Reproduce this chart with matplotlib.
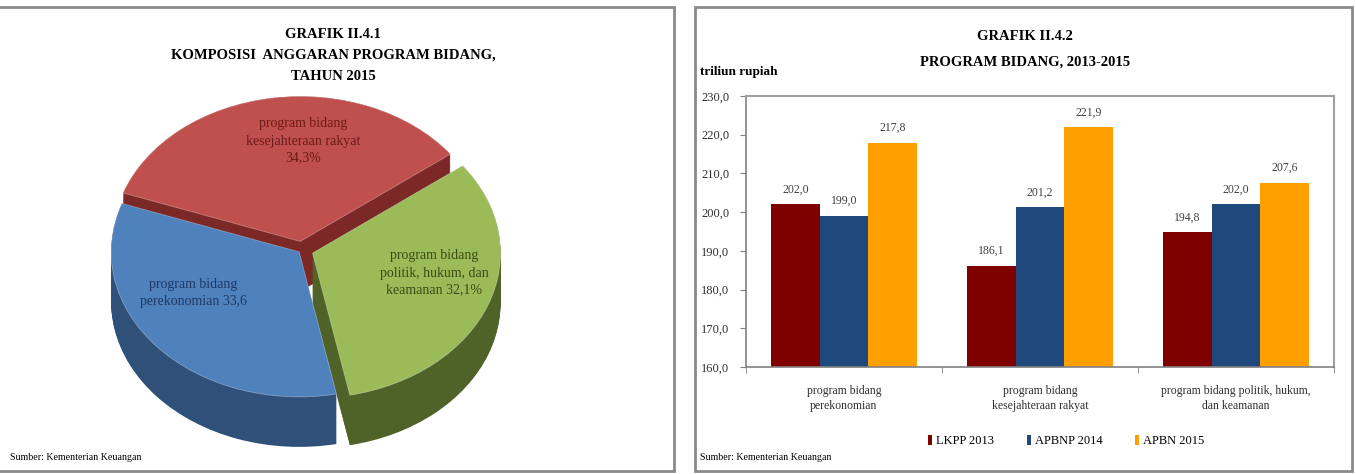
import matplotlib.pyplot as plt
import numpy as np
from matplotlib.patches import Rectangle, Patch

plt.rcParams['font.family'] = ['Liberation Serif', 'DejaVu Serif']

# --- data ---
pie_labels = ['program bidang\nkesejahteraan rakyat\n34,3%',
              'program bidang\nperekonomian 33,6',
              'program bidang\npolitik, hukum, dan\nkeamanan 32,1%']
pie_values = [34.3, 33.6, 32.1]
pie_top = ['#c0504d', '#4f81bd', '#9bbb59']
pie_side = ['#7b2826', '#2f5079', '#4f6228']
pie_text = ['#6b1a18', '#1f3864', '#3b4a14']
pie_explode = [0.06, 0.02, 0.06]

categories = ['program bidang\nperekonomian',
              'program bidang\nkesejahteraan rakyat',
              'program bidang politik, hukum,\ndan keamanan']
series = ['LKPP 2013', 'APBNP 2014', 'APBN 2015']
lkpp = [202.0, 186.1, 194.8]
apbnp = [199.0, 201.2, 202.0]
apbn = [217.8, 221.9, 207.6]
bar_colors = ['#800000', '#1f497d', '#ffa000']

W, H = 1356, 474
fig = plt.figure(figsize=(W / 100, H / 100), dpi=100)


def fx(px):
    return px / W


def fy(py):
    return 1 - py / H


# panel frames
for x0, x1 in [(-3, 674), (695, 1352)]:
    fig.patches.append(Rectangle((fx(x0), fy(471)), fx(x1 - x0), (471 - 7) / H,
                                 transform=fig.transFigure, fill=False,
                                 edgecolor='#8a8a8a', linewidth=2))

# ---------------- left: 3D-like pie ----------------
fig.text(fx(333), fy(34), 'GRAFIK II.4.1', ha='center', va='center',
         fontsize=10.5, fontweight='bold')
fig.text(fx(333), fy(55), 'KOMPOSISI  ANGGARAN PROGRAM BIDANG,', ha='center',
         va='center', fontsize=10.5, fontweight='bold')
fig.text(fx(333), fy(77), 'TAHUN 2015', ha='center', va='center',
         fontsize=10.5, fontweight='bold')
fig.text(fx(10), fy(457), 'Sumber: Kementerian Keuangan', ha='left',
         va='center', fontsize=7.2)

# axes pixel box
ax_l, ax_r, ax_t, ax_b = 95, 520, 85, 462
cx, cy = 302, 250
rx, ry = 188, 145
depth = 50 / ry
pax = fig.add_axes([fx(ax_l), fy(ax_b), fx(ax_r - ax_l), (ax_b - ax_t) / H])
start = 37

# side layers (extrusion)
for z in np.linspace(-depth, 0, 45):
    pax.pie(pie_values, explode=pie_explode, colors=pie_side,
            startangle=start, center=(0, z), radius=1,
            wedgeprops=dict(linewidth=0))
# top faces
pax.pie(pie_values, explode=pie_explode, colors=pie_top,
        startangle=start, center=(0, 0), radius=1,
        wedgeprops=dict(linewidth=0.6, edgecolor='#ffffff55'))
pax.set_aspect('auto')
pax.set_xlim((ax_l - cx) / rx, (ax_r - cx) / rx)
pax.set_ylim(-(ax_b - cy) / ry, (cy - ax_t) / ry)
pax.axis('off')

label_pos = [(303, 141), (193, 293), (434, 273)]
for lab, (px, py), c in zip(pie_labels, label_pos, pie_text):
    fig.text(fx(px), fy(py), lab, ha='center', va='center', fontsize=10,
             color=c, linespacing=1.4)

# ---------------- right: grouped bars ----------------
fig.text(fx(1025), fy(36), 'GRAFIK II.4.2', ha='center', va='center',
         fontsize=10.5, fontweight='bold')
fig.text(fx(1025), fy(62), 'PROGRAM BIDANG, 2013-2015', ha='center',
         va='center', fontsize=10.5, fontweight='bold')
fig.text(fx(700), fy(72), 'triliun rupiah', ha='left', va='center',
         fontsize=9.5, fontweight='bold')
fig.text(fx(700), fy(457), 'Sumber: Kementerian Keuangan', ha='left',
         va='center', fontsize=7.2)

bax = fig.add_axes([fx(746), fy(367), fx(1334 - 746), (367 - 96) / H])
x = np.arange(len(categories))
bw = 0.248
for i, (vals, col, name) in enumerate(zip([lkpp, apbnp, apbn], bar_colors, series)):
    pos = x + (i - 1) * bw
    bax.bar(pos, np.array(vals) - 160, bottom=160, width=bw, color=col,
            label=name, linewidth=0)
    for p, v in zip(pos, vals):
        bax.annotate(f'{v:.1f}'.replace('.', ','), (p, v), xytext=(0, 6.5),
                     textcoords='offset points', ha='center', va='bottom',
                     fontsize=8.5, color='#404040')

bax.set_ylim(160, 230)
bax.set_xlim(-0.5, 2.5)
bax.set_yticks(np.arange(160, 231, 10))
bax.set_yticklabels([f'{v:.1f}'.replace('.', ',') for v in np.arange(160, 231, 10)],
                    fontsize=9, color='#303030')
bax.set_xticks(x)
bax.set_xticklabels(categories, fontsize=8.5, color='#303030', linespacing=1.3)
bax.set_xticks([-0.5, 0.5, 1.5, 2.5], minor=True)
bax.tick_params(axis='x', which='major', length=0, pad=13)
bax.tick_params(axis='x', which='minor', length=4, color='#808080', direction='out')
bax.tick_params(axis='y', length=4, color='#808080', pad=8)
for s in ['top', 'right']:
    bax.spines[s].set_color('#a0a0a0')
    bax.spines[s].set_linewidth(1.5)
for s in ['left', 'bottom']:
    bax.spines[s].set_color('#808080')
    bax.spines[s].set_linewidth(1.2)

handles = [Patch(facecolor=c, label=n) for c, n in zip(bar_colors, series)]
fig.legend(handles=handles, loc='center', bbox_to_anchor=(fx(1066), fy(441)),
           ncol=3, frameon=False, fontsize=9, handlelength=0.35,
           handleheight=0.9, handletextpad=0.3, columnspacing=2.6)

fig.savefig('out.png', dpi=100)
